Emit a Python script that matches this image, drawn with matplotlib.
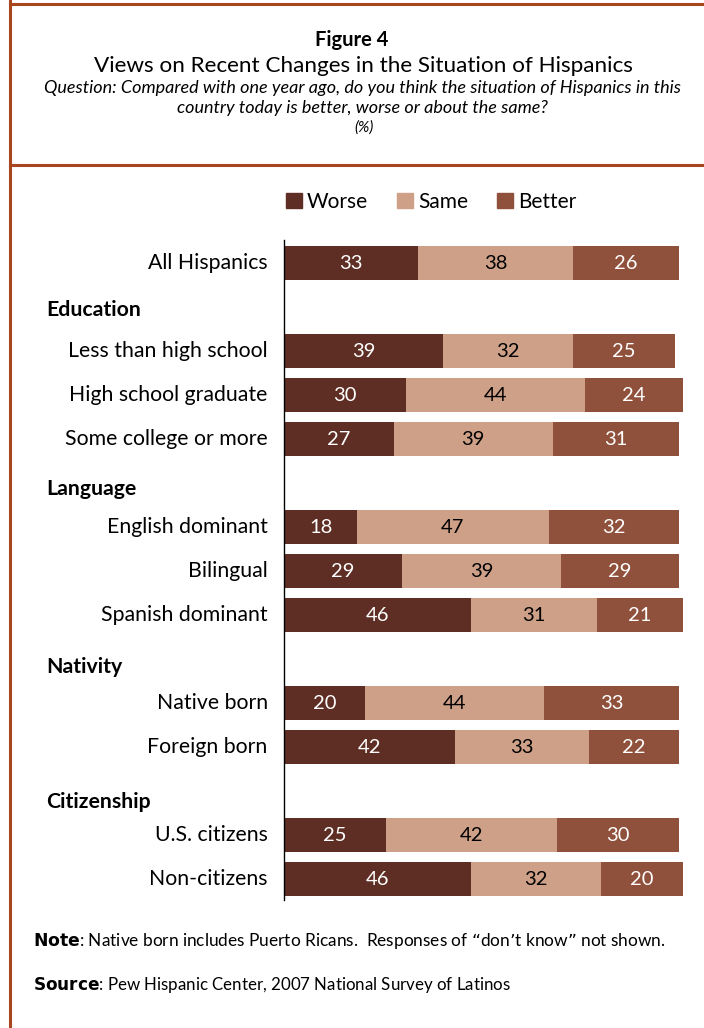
import matplotlib.pyplot as plt
from matplotlib.patches import Patch
from matplotlib.lines import Line2D

# Data
rows = ["All Hispanics", "Less than high school", "High school graduate",
        "Some college or more", "English dominant", "Bilingual",
        "Spanish dominant", "Native born", "Foreign born",
        "U.S. citizens", "Non-citizens"]
worse = [33, 39, 30, 27, 18, 29, 46, 20, 42, 25, 46]
same = [38, 32, 44, 39, 47, 39, 31, 44, 33, 42, 32]
better = [26, 25, 24, 31, 32, 29, 21, 33, 22, 30, 20]
groups = ["Education", "Language", "Nativity", "Citizenship"]

# slot positions (headers take a slot of their own)
row_pos = [0, 2, 3, 4, 6, 7, 8, 10, 11, 13, 14]
group_pos = [1, 5, 9, 12]
group_shift = [0.07, 0.14, 0.18, 0.25]  # headers sit a bit low in the original

series = [("Worse", worse, "#5e2e24", "white"),
          ("Same", same, "#cfa088", "black"),
          ("Better", better, "#8f513b", "white")]

plt.rcParams["font.family"] = ["Lato", "DejaVu Sans"]

W, H = 704, 1028
fig = plt.figure(figsize=(W / 100, H / 100), dpi=100)


def fx(x):
    return x / W


def fy(y):
    return 1 - y / H


# frame lines
border = "#a8461e"
fig.add_artist(Line2D([fx(10), fx(10)], [fy(0), fy(1028)], color=border, lw=2.2))
fig.add_artist(Line2D([fx(10), fx(704)], [fy(4), fy(4)], color=border, lw=2.2))
fig.add_artist(Line2D([fx(10), fx(704)], [fy(165), fy(165)], color=border, lw=2.2))

# titles
fig.text(fx(352), fy(40), "Figure 4", ha="center", va="center", fontsize=14.5, fontweight="bold")
fig.text(fx(363), fy(66), "Views on Recent Changes in the Situation of Hispanics",
         ha="center", va="center", fontsize=16.2)
fig.text(fx(362), fy(88), "Question: Compared with one year ago, do you think the situation of Hispanics in this",
         ha="center", va="center", fontsize=13, style="italic")
fig.text(fx(362), fy(108), "country today is better, worse or about the same?",
         ha="center", va="center", fontsize=13, style="italic")
fig.text(fx(364), fy(128), "(%)", ha="center", va="center", fontsize=11, style="italic")

# bar axes
ax = fig.add_axes([fx(284), fy(900), 407 / W, 660 / H])
ax.set_xlim(0, 100)
ax.set_ylim(14.477, -0.523)

left = [0] * len(rows)
for name, vals, col, tcol in series:
    ax.barh(row_pos, vals, left=left, height=0.77, color=col, label=name)
    for y, l, v in zip(row_pos, left, vals):
        ax.text(l + v / 2, y, str(v), ha="center", va="center", color=tcol, fontsize=14.5)
    left = [a + b for a, b in zip(left, vals)]

for y, name in zip(row_pos, rows):
    ax.text(-4, y, name, ha="right", va="center", fontsize=15.3)
for y, dy, name in zip(group_pos, group_shift, groups):
    ax.text(-58.5, y + dy, name, ha="left", va="center", fontsize=15.3, fontweight="bold")

for s in ["top", "right", "bottom"]:
    ax.spines[s].set_visible(False)
ax.spines["left"].set_linewidth(1.0)
ax.set_xticks([])
ax.set_yticks([])

handles = [Patch(color=c, label=n) for n, _, c, _ in series]
fig.legend(handles=handles, loc="center", bbox_to_anchor=(fx(431), fy(202)), ncol=3,
           frameon=False, fontsize=15, handlelength=0.75, handleheight=0.75,
           handletextpad=0.25, columnspacing=1.4)

# notes
fig.text(fx(33), fy(941), "$\\bf{Note}$: Native born includes Puerto Ricans.  Responses of \u201cdon\u2019t know\u201d not shown.",
         ha="left", va="center", fontsize=12.4)
fig.text(fx(33), fy(985), "$\\bf{Source}$: Pew Hispanic Center, 2007 National Survey of Latinos",
         ha="left", va="center", fontsize=12.2)

fig.savefig("out.png", dpi=100)
